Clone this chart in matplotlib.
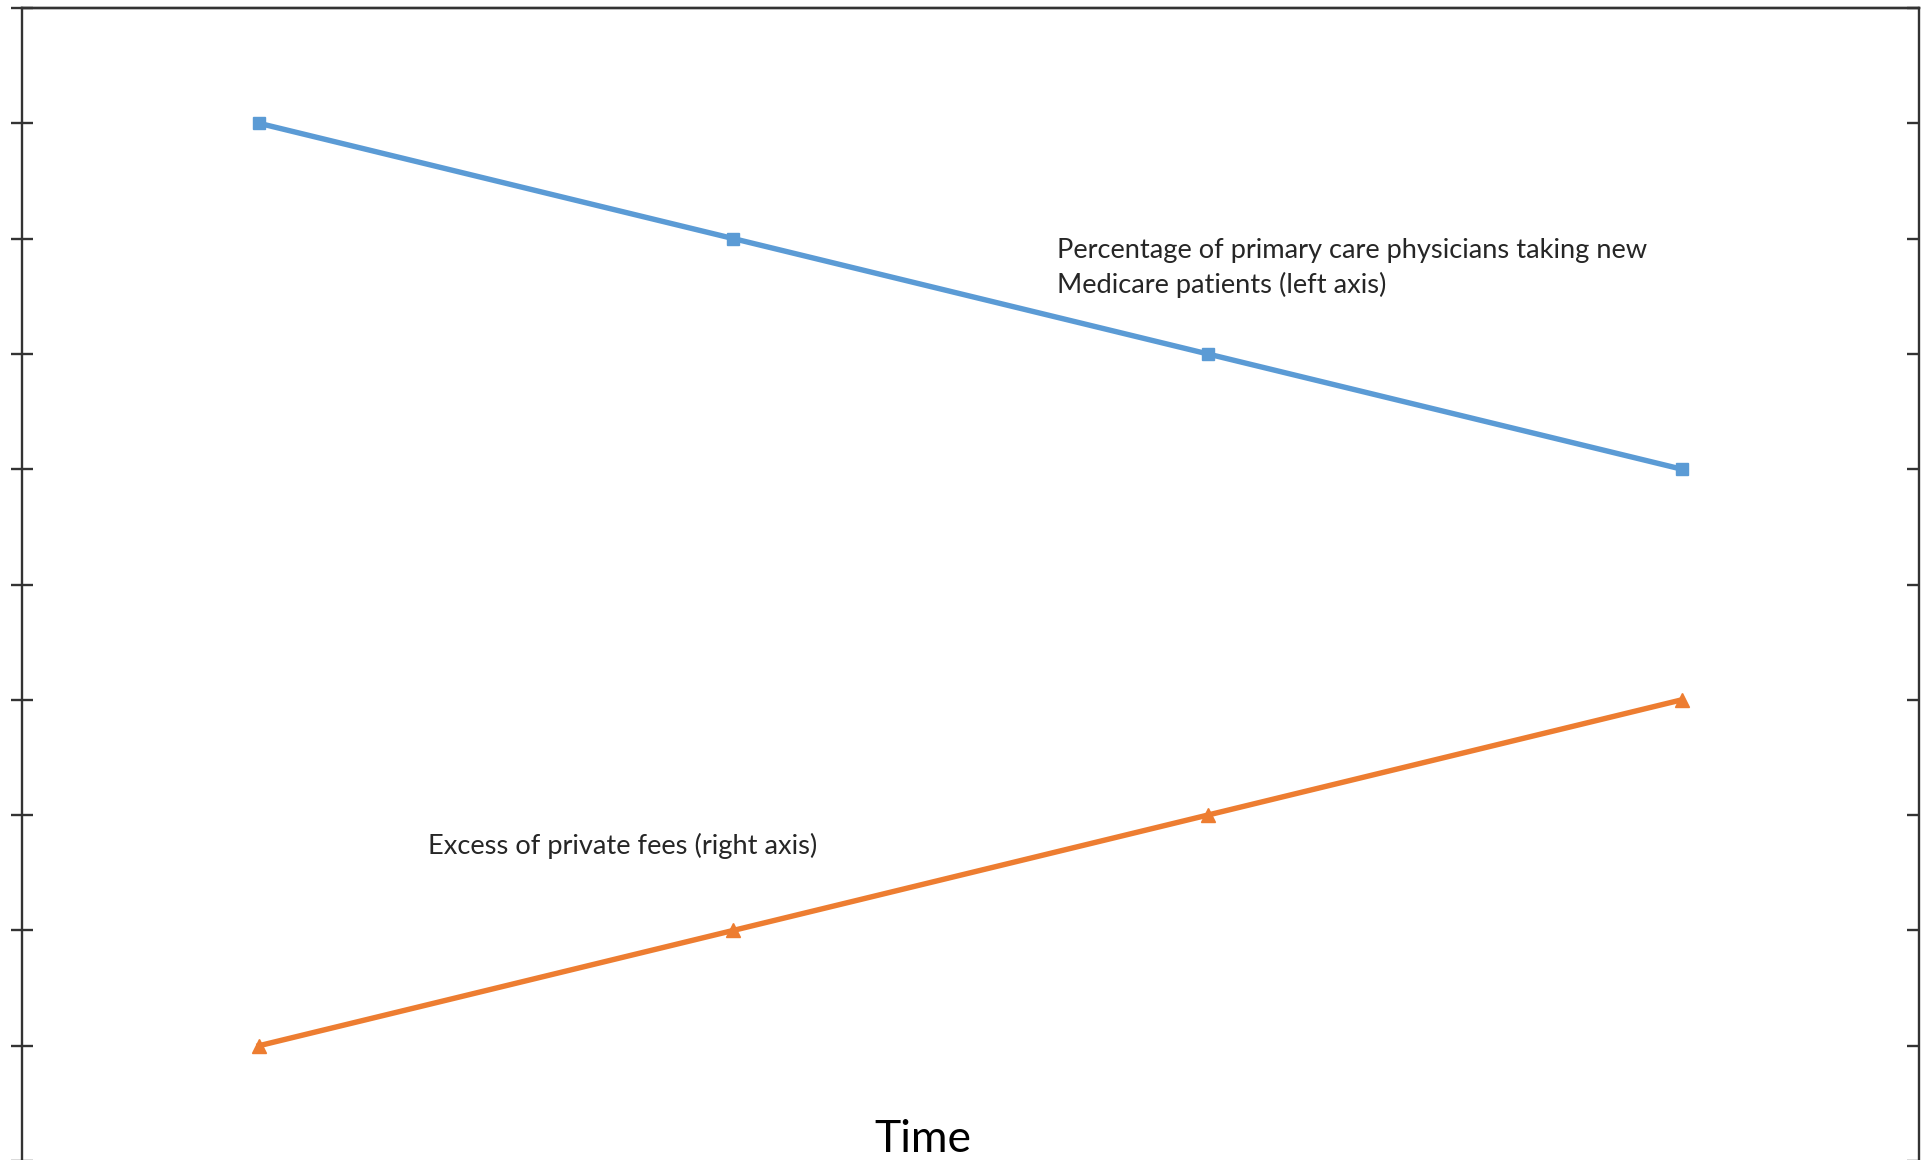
import matplotlib
matplotlib.use("Agg")
import matplotlib.pyplot as plt

categories = ["1", "2", "3", "4"]
left_values = [9, 8, 7, 6]     # primary care physicians taking new Medicare patients
right_values = [1, 2, 3, 4]    # excess of private fees
y_ticks = list(range(0, 11))

W, H = 1921, 1160
fig = plt.figure(figsize=(W / 100, H / 100), dpi=100)
left = 22 / W
right = 1919 / W
top = 1 - 8 / H
bottom = 1 - 1161 / H
ax = fig.add_axes([left, bottom, right - left, top - bottom])
ax2 = ax.twinx()

xpos = [i + 0.5 for i in range(len(categories))]
blue = "#5B9BD5"
orange = "#ED7D31"
ax.plot(xpos, left_values, color=blue, lw=3.9, marker="s", markersize=9, zorder=3)
ax2.plot(xpos, right_values, color=orange, lw=3.9, marker="^", markersize=10, zorder=3)

for a in (ax, ax2):
    a.set_xlim(0, len(categories))
    a.set_ylim(0, 10)
    a.set_yticks(y_ticks)
    a.set_yticklabels([])
    a.set_xticks([])
    for s in a.spines.values():
        s.set_color("#333333")
        s.set_linewidth(1.7)
    a.spines["bottom"].set_visible(False)

ax.tick_params(axis="y", direction="inout", length=16, width=1.7, color="#333333", left=True, right=False)
ax2.tick_params(axis="y", direction="in", length=8.5, width=1.7, color="#333333", left=False, right=True)
ax2.spines["left"].set_visible(False)
ax.spines["right"].set_visible(False)

font = "Lato"
fig.text(1057 / W, 1 - 268 / H,
         "Percentage of primary care physicians taking new\nMedicare patients (left axis)",
         fontsize=19.6, family=font, color="#262626", ha="left", va="center", linespacing=1.38)
fig.text(428 / W, 1 - 846 / H, "Excess of private fees (right axis)",
         fontsize=19.6, family=font, color="#262626", ha="left", va="center")
fig.text(923 / W, 1 - 1139 / H, "Time", fontsize=32, family=font, color="black",
         ha="center", va="center")

fig.savefig("out.png", dpi=100)
